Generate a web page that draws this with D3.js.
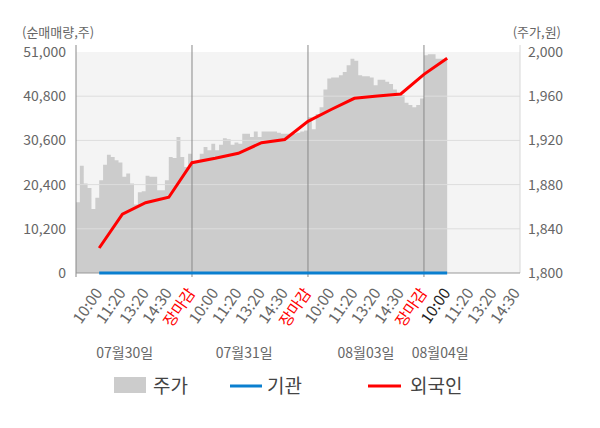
<!DOCTYPE html>
<html>
<head>
<meta charset="utf-8">
<script src="https://cdn.jsdelivr.net/npm/d3@7"></script>
<style>
  body { margin: 0; background: #fff; }
  text { font-family: "Noto Sans CJK KR", "Noto Sans", sans-serif; }
</style>
</head>
<body>
<div id="chart"></div>
<script>
// data
const days = ["07월30일", "07월31일", "08월03일", "08월04일"]
const timeLabels = ["10:00", "11:20", "13:20", "14:30", "장마감"]
const leftTicks = [0, 10200, 20400, 30600, 40800, 51000]
const rightTicks = [1800, 1840, 1880, 1920, 1960, 2000]

// price sampled every 1/6 of a tick slot
const priceDay1 = [1864, 1897, 1881, 1877, 1858, 1868, 1884, 1898, 1907, 1905,
                   1902, 1900, 1887, 1890, 1881, 1862, 1873, 1874, 1888, 1887,
                   1887, 1875, 1875, 1884, 1905, 1904, 1923, 1905, 1896, 1908]
const priceDay2 = [1901, 1900, 1908, 1914, 1911, 1917, 1911, 1916, 1922, 1921,
                   1916, 1918, 1917, 1926, 1926, 1923, 1928, 1923, 1928, 1928,
                   1928, 1928, 1927, 1926, 1926, 1926, 1926, 1927, 1928, 1929]
const priceDay3 = [1941, 1930, 1944, 1950, 1966, 1976, 1977, 1977, 1979, 1982,
                   1988, 1994, 1992, 1979, 1978, 1978, 1977, 1970, 1975, 1975,
                   1973, 1971, 1966, 1961, 1961, 1954, 1952, 1950, 1952, 1958]
const priceDay4 = [1997, 1998, 1998, 1994, 1994, 1993, 1993]

// cumulative net buying, one value per tick slot (1..16)
const institution = [0, 0, 0, 0, 0, 0, 0, 0, 0, 0, 0, 0, 0, 0, 0, 0]
const foreign = [5770, 13600, 16220, 17470, 25450, 26470, 27620, 30070,
                 30810, 35000, 37730, 40310, 40850, 41310, 45850, 49550]

const W = 600, H = 428
const pl = 76, pr = 520, pt = 52, pb = 273

const svg = d3.select("#chart").append("svg")
    .attr("width", W)
    .attr("height", H)

const x = d3.scaleLinear().domain([0, 19.14]).range([pl, pr])
const yL = d3.scaleLinear().domain([0, 51000]).range([pb, pt])
const yR = d3.scaleLinear().domain([1800, 2000]).range([pb, pt])

// background
svg.append("rect")
    .attr("x", pl).attr("y", pt)
    .attr("width", pr - pl).attr("height", pb - pt)
    .attr("fill", "#f4f4f4")

// price area
const price = [].concat(priceDay1, priceDay2, priceDay3, priceDay4)
svg.append("path")
    .datum(price)
    .attr("fill", "#cccccc")
    .attr("d", d3.area()
        .curve(d3.curveStepAfter)
        .x((d, i) => x(i / 6))
        .y0(pb)
        .y1(d => yR(d)))

// horizontal grid
svg.append("g")
    .selectAll("line")
    .data(leftTicks.slice(1, -1))
    .join("line")
        .attr("x1", pl).attr("x2", pr)
        .attr("y1", d => yL(d)).attr("y2", d => yL(d))
        .attr("stroke", "#dddddd")

// day separators + axis lines
svg.append("g")
    .selectAll("line")
    .data([0, 5, 10, 15])
    .join("line")
        .attr("x1", d => x(d)).attr("x2", d => x(d))
        .attr("y1", 45).attr("y2", pb + 4)
        .attr("stroke", "#888888")
svg.append("line")
    .attr("x1", pr).attr("x2", pr)
    .attr("y1", 45).attr("y2", pb)
    .attr("stroke", "#d8d8d8")
svg.append("line")
    .attr("x1", pl).attr("x2", pr)
    .attr("y1", pb).attr("y2", pb)
    .attr("stroke", "#999999")

// left / right axes
const leftAxis = svg.append("g")
    .attr("transform", `translate(${pl - 10},0)`)
    .call(d3.axisLeft(yL).tickValues(leftTicks).tickSize(0).tickFormat(d3.format(",")))
leftAxis.select(".domain").remove()
leftAxis.selectAll("text").attr("fill", "#666").style("font-size", "14px").attr("x", 0)

const rightAxis = svg.append("g")
    .attr("transform", `translate(${pr + 8},0)`)
    .call(d3.axisRight(yR).tickValues(rightTicks).tickSize(0).tickFormat(d3.format(",")))
rightAxis.select(".domain").remove()
rightAxis.selectAll("text").attr("fill", "#666").style("font-size", "14px").attr("x", 0)

svg.append("text").attr("x", 22).attr("y", 37)
    .attr("fill", "#666").style("font-size", "13px").text("(순매매량,주)")
svg.append("text").attr("x", 561).attr("y", 37).attr("text-anchor", "end")
    .attr("fill", "#666").style("font-size", "13px").text("(주가,원)")

// lines
const line = d3.line().x((d, i) => x(i + 1)).y(d => yL(d))
svg.append("path").datum(institution)
    .attr("fill", "none").attr("stroke", "#0a7fcf").attr("stroke-width", 3)
    .attr("d", line)
svg.append("path").datum(foreign)
    .attr("fill", "none").attr("stroke", "#ff0000").attr("stroke-width", 3)
    .attr("d", line)

// x tick labels
const ticks = []
days.forEach((d, di) => {
    timeLabels.forEach((t, ti) => {
        const slot = di * 5 + ti + 1
        if (slot <= 19) ticks.push({slot: slot, label: t})
    })
})
svg.append("g")
    .selectAll("text")
    .data(ticks)
    .join("text")
        .attr("transform", d => `translate(${x(d.slot) + 4},293) rotate(-55)`)
        .attr("text-anchor", "end")
        .style("font-size", "15.5px")
        .attr("fill", d => d.label == "장마감" ? "#ff0000" : (d.slot == 16 ? "#222" : "#666"))
        .text(d => d.label)

// day labels
const dayPos = [2.1, 7.25, 12.5, 15.7]
svg.append("g")
    .selectAll("text")
    .data(days)
    .join("text")
        .attr("x", (d, i) => x(dayPos[i]))
        .attr("y", 358)
        .attr("text-anchor", "middle")
        .attr("fill", "#666")
        .style("font-size", "14px")
        .text(d => d)

// legend
const legend = svg.append("g")
legend.append("rect").attr("x", 114).attr("y", 377).attr("width", 32).attr("height", 16).attr("fill", "#cccccc")
legend.append("text").attr("x", 153).attr("y", 393).style("font-size", "19px").attr("fill", "#444").text("주가")
legend.append("line").attr("x1", 230).attr("x2", 262).attr("y1", 386).attr("y2", 386)
    .attr("stroke", "#0a7fcf").attr("stroke-width", 3)
legend.append("text").attr("x", 267).attr("y", 393).style("font-size", "19px").attr("fill", "#444").text("기관")
legend.append("line").attr("x1", 368).attr("x2", 401).attr("y1", 386).attr("y2", 386)
    .attr("stroke", "#ff0000").attr("stroke-width", 3)
legend.append("text").attr("x", 410).attr("y", 393).style("font-size", "19px").attr("fill", "#444").text("외국인")
</script>
</body>
</html>
